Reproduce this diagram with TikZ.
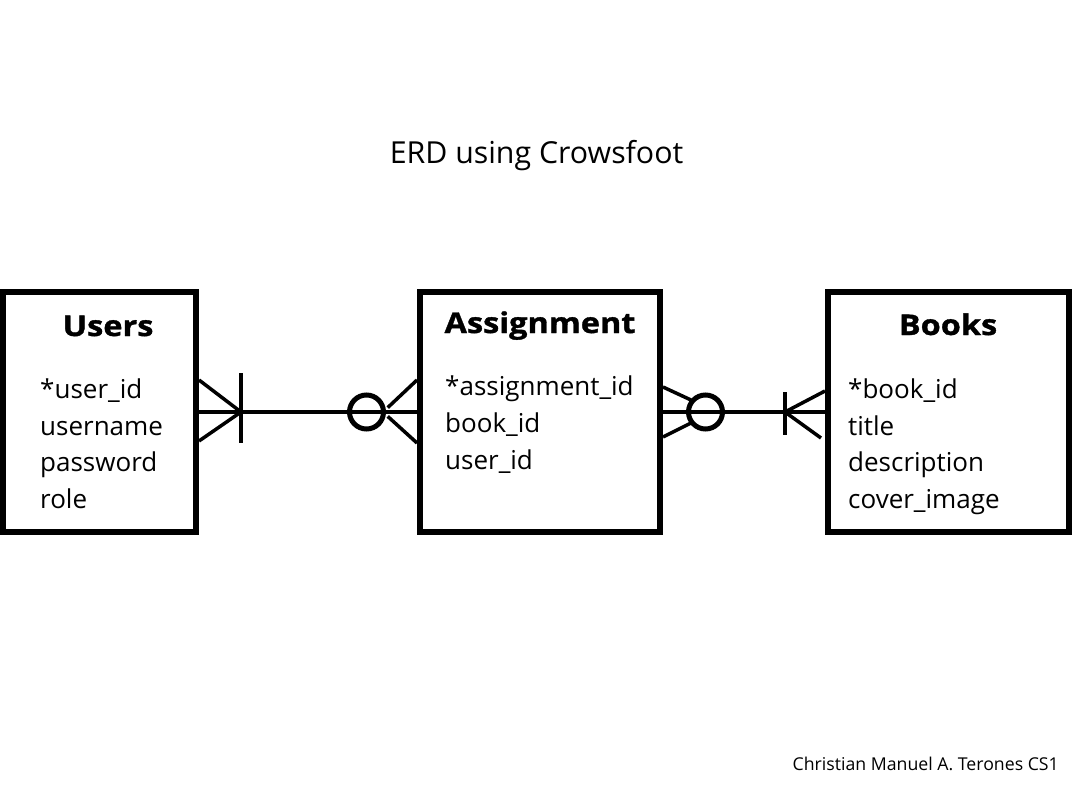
\documentclass[tikz,border=0pt]{standalone}
\usepackage{fontspec}
\setmainfont{Open Sans}
\newfontfamily\ttlfont[FakeStretch=1.14, FakeBold=1.2]{Open Sans}
\begin{document}
\begin{tikzpicture}[x=1pt,y=-1pt,
  entity/.style={draw=black, line width=6pt, minimum height=240pt, inner sep=0pt},
  ttl/.style={anchor=base, font=\ttlfont\fontsize{28.5}{28.5}\selectfont\bfseries, inner sep=0pt},
  attr/.style={anchor=base west, font=\fontsize{26}{26}\selectfont, inner sep=0pt},
  rel/.style={line width=3.5pt},
  ring/.style={line width=5pt}]
\useasboundingbox[fill=white] (0,0) rectangle (1080,800);
\node[anchor=base, font=\fontsize{30.3}{30.3}\selectfont, inner sep=0pt] (title) at (536.5,163) {ERD using Crowsfoot};
\node[anchor=base east, font=\fontsize{17.7}{17.7}\selectfont, inner sep=0pt] (credit) at (1059,770) {Christian Manuel A. Terones CS1};
% entities
\node[entity, minimum width=193pt] (users) at (99.5,412) {};
\node[entity, minimum width=240pt] (assign) at (540,412) {};
\node[entity, minimum width=241pt] (books) at (948.5,412) {};
% titles
\node[ttl] (usersT) at (108,336) {Users};
\node[ttl] (assignT) at (540,333) {Assignment};
\node[ttl] (booksT) at (948,335) {Books};
% attributes
\node[attr] (u1) at (40,398) {*user\_id};
\node[attr] (u2) at (40,435) {username};
\node[attr] (u3) at (40,471) {password};
\node[attr] (u4) at (40,508) {role};
\node[attr] (a1) at (445,395) {*assignment\_id};
\node[attr] (a2) at (445,432) {book\_id};
\node[attr] (a3) at (445,469) {user\_id};
\node[attr] (b1) at (848,398) {*book\_id};
\node[attr] (b2) at (848,435) {title};
\node[attr] (b3) at (848,471) {description};
\node[attr] (b4) at (848,508) {cover\_image};
% relationship Users - Assignment
\coordinate (uf) at (241,412);
\draw[rel] (users.east) -- (assign.west);
\draw[rel] (199,380) -- (uf) -- (199,441);
\draw[rel] (241,373) -- (241,443);
\node[ring, draw, circle, minimum size=34pt, inner sep=0pt] (c1) at (366.5,412) {};
\draw[rel] (c1.10) ++(2,-1) -- (417,380);
\draw[rel] (c1.-10) ++(2,1) -- (417,443);
% relationship Assignment - Books
\coordinate (bf) at (785,412);
\draw[rel] (assign.east) -- (books.west);
\node[ring, draw, circle, minimum size=34pt, inner sep=0pt] (c2) at (705.5,412) {};
\draw[rel] (663,387) -- (691,400);
\draw[rel] (663,437) -- (691,423);
\draw[rel] (785,392) -- (785,435);
\draw[rel] (825,391) -- (bf) -- (821,438);
\end{tikzpicture}
\end{document}
